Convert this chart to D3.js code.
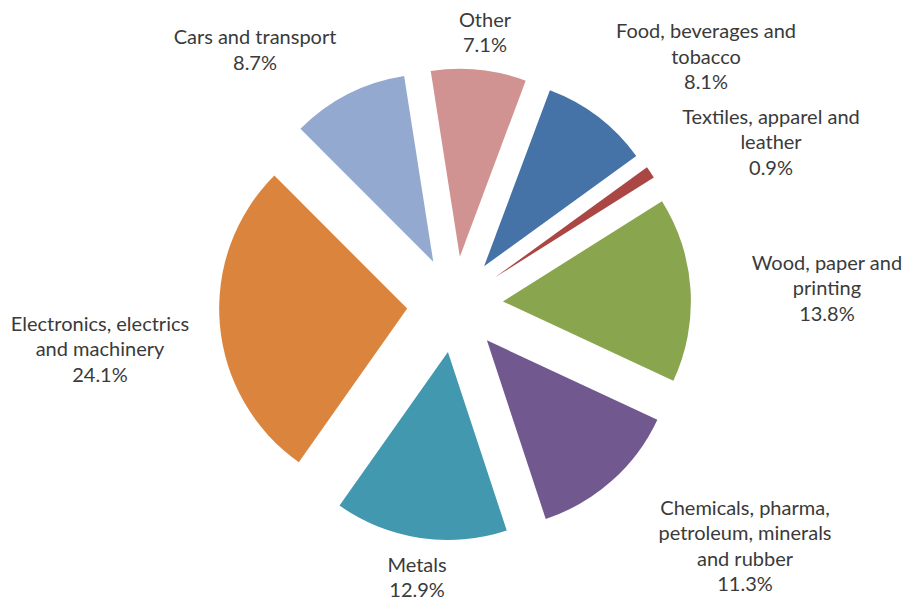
<!DOCTYPE html>
<html><head><meta charset="utf-8">
<script src="https://cdn.jsdelivr.net/npm/d3@7"></script>
<style>body{margin:0;background:#fff}</style></head>
<body><svg id="chart" width="906" height="601"></svg>
<script>
// ---- data ----
const categories = ["Food, beverages and tobacco", "Textiles, apparel and leather", "Wood, paper and printing",
  "Chemicals, pharma, petroleum, minerals and rubber", "Metals", "Electronics, electrics and machinery",
  "Cars and transport", "Other"];
const shares = [8.1, 0.9, 13.8, 11.3, 12.9, 24.1, 8.7, 7.1];
const labelLines = [["Food, beverages and", "tobacco"], ["Textiles, apparel and", "leather"], ["Wood, paper and", "printing"],
  ["Chemicals, pharma,", "petroleum, minerals", "and rubber"], ["Metals"], ["Electronics, electrics", "and machinery"],
  ["Cars and transport"], ["Other"]];

// ---- style / layout ----
const colors = ["#4572A7", "#AA4643", "#89A54E", "#71588F", "#4198AF", "#DB843D", "#93A9CF", "#D19392"];
const W = 906, H = 601, cx = 455, cy = 304.5, R = 188, explode = 48;
const startDeg = 20.5, labelDist = 270, lineH = 25.5, fontSize = 20;
const labelNudge = [[87.5, -26], [92.4, -4.2], [102.5, 7.6], [110.6, 46.7], [1.9, 12.9], [-86, 28.6], [-77.7, -6.6], [2.7, 3.6]];

const svg = d3.select("#chart");
const a0 = startDeg * Math.PI / 180;
const pie = d3.pie().sort(null).value(d => d).startAngle(a0).endAngle(a0 + 2 * Math.PI);
const arc = d3.arc().innerRadius(0).outerRadius(R);
const color = d3.scaleOrdinal().domain(categories).range(colors);
const pct = v => d3.format(".1f")(v) + "%";

const arcs = pie(shares).map((p, i) => ({...p, i, mid: (p.startAngle + p.endAngle) / 2}));
const g = svg.append("g").attr("transform", `translate(${cx},${cy})`);

g.selectAll("path.slice").data(arcs).join("path")
  .attr("class", "slice")
  .attr("d", arc)
  .attr("fill", d => color(categories[d.i]))
  .attr("transform", d => `translate(${explode * Math.sin(d.mid)},${-explode * Math.cos(d.mid)})`);

const labels = g.selectAll("text.lbl").data(arcs).join("text")
  .attr("class", "lbl")
  .attr("text-anchor", "middle")
  .attr("font-family", "Lato, 'Open Sans', sans-serif")
  .attr("font-size", fontSize)
  .attr("fill", "#3a3a3a");

labels.each(function(d) {
  const lines = labelLines[d.i].concat([pct(d.data)]);
  const x = labelDist * Math.sin(d.mid) + labelNudge[d.i][0];
  const yMean = -labelDist * Math.cos(d.mid) + labelNudge[d.i][1];
  const y0 = yMean - (lines.length - 1) * lineH / 2;
  d3.select(this).selectAll("tspan").data(lines).join("tspan")
    .attr("x", x)
    .attr("y", (t, k) => y0 + k * lineH)
    .text(t => t);
});
</script></body></html>
